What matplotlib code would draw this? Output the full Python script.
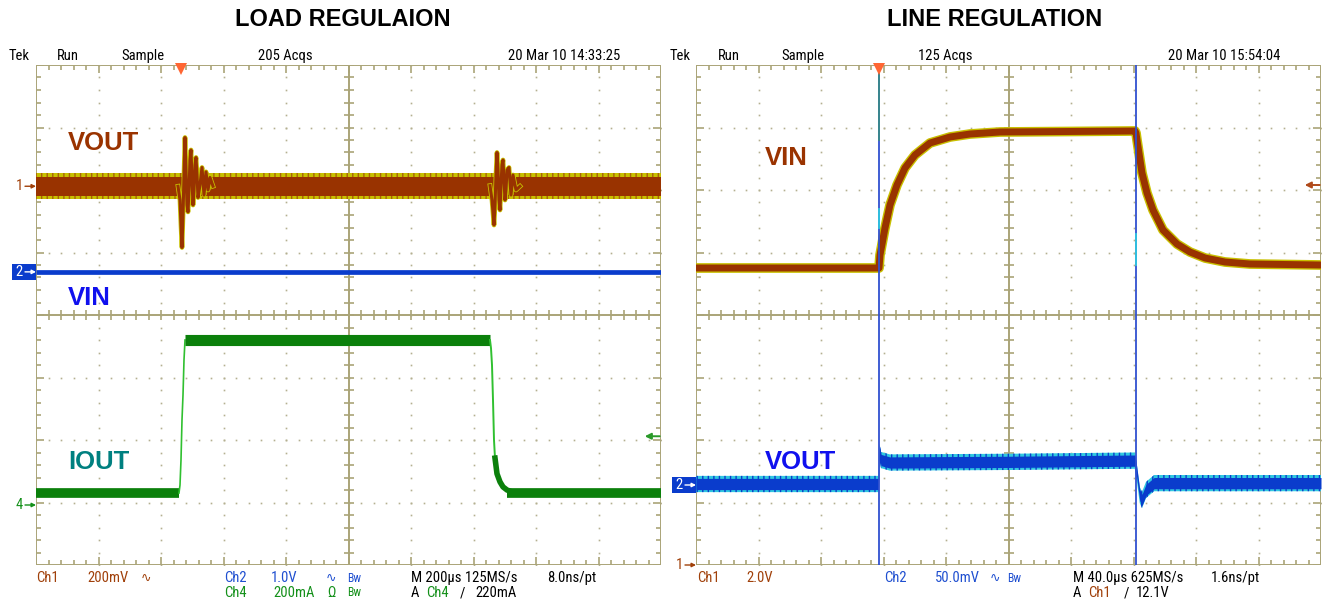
import matplotlib
matplotlib.use('Agg')
import matplotlib.pyplot as plt
from matplotlib.patches import Rectangle
from matplotlib.collections import LineCollection
import numpy as np

# ---------------- data (graticule units: x 0..10 div, y 0..8 div) ----------------
# LOAD REGULATION screen
load_vout_level = 6.06
load_spike1_t = [2.272, 2.304, 2.32, 2.336, 2.352, 2.368, 2.384, 2.40, 2.416, 2.432, 2.448, 2.464, 2.48, 2.496,
                 2.512, 2.528, 2.544, 2.56, 2.576, 2.592, 2.624, 2.656, 2.688, 2.72, 2.752, 2.784, 2.832]
load_spike1_dv = [0, -0.22, -0.62, -0.98, -0.46, 0.18, 0.78, 0.26, -0.30, -0.41, -0.06, 0.42, 0.58, 0.10,
                  -0.30, -0.06, 0.34, 0.46, 0.18, -0.18, 0.02, 0.30, -0.14, 0.23, -0.06, 0.14, 0]
load_spike2_t = [7.264, 7.296, 7.328, 7.344, 7.36, 7.376, 7.392, 7.408, 7.424, 7.44, 7.456, 7.472, 7.488,
                 7.504, 7.52, 7.536, 7.568, 7.60, 7.632, 7.68, 7.744]
load_spike2_dv = [0.01, -0.22, -0.62, -0.30, 0.18, 0.54, 0.26, -0.22, -0.38, 0.02, 0.34, 0.42, 0.10,
                  -0.22, -0.06, 0.26, 0.30, -0.14, 0.18, -0.06, 0]
load_vin_level = 4.69
load_iout_low = 1.15
load_iout_high = 3.60
load_iout_rise_t = [2.288, 2.304, 2.32, 2.336, 2.352, 2.368, 2.384]
load_iout_rise_v = [1.152, 1.28, 1.68, 2.32, 2.72, 3.28, 3.60]
load_iout_fall_t = [7.264, 7.28, 7.296, 7.312, 7.328, 7.344, 7.376, 7.424, 7.472, 7.536, 7.616, 7.744]
load_iout_fall_v = [3.60, 3.47, 3.20, 2.64, 2.00, 1.71, 1.46, 1.33, 1.25, 1.20, 1.17, 1.15]
load_trigger_t = 2.32
load_trigger_level = 2.06
load_ch_refs = {'1': 6.06, '2': 4.69, '4': 0.96}

# LINE REGULATION screen
line_vin_t = [0, 2.928, 2.944, 3.024, 3.104, 3.216, 3.344, 3.504, 3.744, 4.064, 4.384, 4.864, 7.024,
              7.04, 7.056, 7.136, 7.216, 7.312, 7.472, 7.696, 7.904, 8.144, 8.464, 8.864, 10]
line_vin_v = [4.752, 4.752, 4.96, 5.392, 5.76, 6.08, 6.352, 6.56, 6.752, 6.848, 6.896, 6.928, 6.944,
              6.912, 6.80, 6.272, 5.952, 5.68, 5.36, 5.136, 5.008, 4.912, 4.848, 4.816, 4.80]
line_vout_t = [0, 2.92, 2.936, 2.96, 3.10, 5.0, 7.02, 7.05, 7.10, 7.136, 7.20, 7.33, 10]
line_vout_v = [1.296, 1.296, 1.81, 1.68, 1.64, 1.65, 1.67, 1.50, 1.12, 1.04, 1.20, 1.31, 1.31]
line_edges_t = [2.928, 7.04]
line_trigger_t = 2.928
line_trigger_level = 6.08
line_ch_refs = {'2': 1.28, '1': 0.0}

# ---------------- style ----------------
W, H = 1328, 600
GRID = '#aaa478'
DOT = '#b4b090'
BROWN = '#993300'
YELLOW = '#c8c000'
BLUE = '#0a3ccc'
CYAN = '#30c8e0'
GREEN = '#0b800b'
LGREEN = '#30c030'
TXT_BROWN = '#a0400a'
TXT_BLUE = '#1f4fd0'
TXT_GREEN = '#14901a'
NARROW = ['Roboto Condensed', 'DejaVu Sans']
BOLD = ['Liberation Sans', 'DejaVu Sans']
PX = 1 / 62.5  # one pixel in divisions
plt.rcParams['hatch.linewidth'] = 1.0

fig = plt.figure(figsize=(W / 100, H / 100), dpi=100)
fig.patch.set_facecolor('white')


def ftext(px, py, s, color='black', size=10.5, **kw):
    kw.setdefault('family', NARROW)
    fig.text(px / W, 1 - py / H, s, color=color, fontsize=size, va='center', ha='left', **kw)


def graticule(ax):
    ax.set_xlim(0, 10)
    ax.set_ylim(0, 8)
    ax.axis('off')
    ax.add_patch(Rectangle((0, 0), 10, 8, fill=False, ec=GRID, lw=1.4, zorder=1))
    ax.plot([5, 5], [0, 8], color=GRID, lw=1.4, zorder=1)
    ax.plot([0, 10], [4, 4], color=GRID, lw=1.4, zorder=1)
    mx = np.arange(0, 10.001, 0.2)
    my = np.arange(0, 8.001, 0.2)
    for gx in [1, 2, 3, 4, 6, 7, 8, 9]:
        ax.plot(np.full_like(my, gx), my, ls='none', marker='s', ms=1.2, mew=0, color=DOT, zorder=1)
    for gy in [1, 2, 3, 5, 6, 7]:
        ax.plot(mx, np.full_like(mx, gy), ls='none', marker='s', ms=1.2, mew=0, color=DOT, zorder=1)
    segs = []
    for x in mx:
        L = 8 * PX if abs(x - round(x)) < 1e-6 else 5 * PX
        segs += [[(x, 8), (x, 8 - L)], [(x, 0), (x, L)], [(x, 4 - 5 * PX), (x, 4 + 5 * PX)]]
    for y in my:
        L = 8 * PX if abs(y - round(y)) < 1e-6 else 5 * PX
        segs += [[(0, y), (L, y)], [(10, y), (10 - L, y)], [(5 - 5 * PX, y), (5 + 5 * PX, y)]]
    ax.add_collection(LineCollection(segs, colors=GRID, lw=1.2, zorder=1))


def ch_marker(ax, label, level, color, boxed=False):
    if boxed:
        ax.add_patch(Rectangle((-24 * PX, level - 8 * PX), 24 * PX, 16 * PX, fc=color, ec='none',
                               clip_on=False, zorder=5))
        tc = 'white'
    else:
        tc = color
    ax.text(-17 * PX, level, label, color=tc, fontsize=10.5, family=NARROW, ha='center', va='center',
            clip_on=False, zorder=6)
    ax.annotate('', xy=(0, level), xytext=(-11 * PX, level), xycoords='data',
                arrowprops=dict(arrowstyle='-|>', color=tc, lw=1.0, mutation_scale=6,
                                shrinkA=0, shrinkB=0), annotation_clip=False, zorder=6)


def level_arrow(ax, level, color):
    ax.annotate('', xy=(9.74, level), xytext=(9.98, level),
                arrowprops=dict(arrowstyle='-|>', color=color, lw=1.4, mutation_scale=9,
                                shrinkA=0, shrinkB=0), zorder=6)


def trig_mark(ax, t):
    ax.plot([t], [8 - 3.5 * PX], marker='v', ms=8, color='#ff6633', mew=0, clip_on=False, zorder=7)


# ---------------- LOAD REGULATION ----------------
axL = fig.add_axes([36 / W, 35 / H, 625 / W, 500 / H])
graticule(axL)
lv = load_vout_level
axL.fill_between([0, 10], lv - 0.21, lv + 0.21, facecolor=YELLOW, edgecolor='#a8600a', hatch='|||',
                 lw=0, zorder=2)
axL.fill_between([0, 10], lv - 0.15, lv + 0.15, color=BROWN, lw=0, zorder=3)
for t, dv in [(load_spike1_t, load_spike1_dv), (load_spike2_t, load_spike2_dv)]:
    y = lv + np.array(dv)
    axL.plot(t, y, color=YELLOW, lw=3.4, zorder=3)
    axL.plot(t, y, color=BROWN, lw=2.2, zorder=4)
axL.plot([0, 10], [load_vin_level] * 2, color=BLUE, lw=3.4, solid_capstyle='butt', zorder=3)

lo, hi = load_iout_low, load_iout_high
axL.plot([0, load_iout_rise_t[0]], [lo, lo], color=GREEN, lw=7, solid_capstyle='butt', zorder=3)
axL.plot(load_iout_rise_t, load_iout_rise_v, color=LGREEN, lw=1.2, zorder=3)
axL.plot([load_iout_rise_t[-1], load_iout_fall_t[0]], [hi, hi], color=GREEN, lw=8, solid_capstyle='butt',
         zorder=3)
axL.plot(load_iout_fall_t[:6], load_iout_fall_v[:6], color=LGREEN, lw=1.4, zorder=3)
axL.plot(load_iout_fall_t[5:], load_iout_fall_v[5:], color=GREEN, lw=4, zorder=3)
axL.plot([load_iout_fall_t[-3], 10], [lo, lo], color=GREEN, lw=7, solid_capstyle='butt', zorder=3)

trig_mark(axL, load_trigger_t)
level_arrow(axL, load_trigger_level, '#2a9a2a')
ch_marker(axL, '1', load_ch_refs['1'], TXT_BROWN)
ch_marker(axL, '2', load_ch_refs['2'], BLUE, boxed=True)
ch_marker(axL, '4', load_ch_refs['4'], TXT_GREEN)

# ---------------- LINE REGULATION ----------------
axR = fig.add_axes([696 / W, 35 / H, 625 / W, 500 / H])
graticule(axR)
axR.plot(line_vin_t, line_vin_v, color=YELLOW, lw=7, zorder=3, solid_joinstyle='round')
axR.plot(line_vin_t, line_vin_v, color=BROWN, lw=5, zorder=4, solid_joinstyle='round')
vt = np.array(line_vout_t)
vv = np.array(line_vout_v)
axR.fill_between(vt, vv - 0.13, vv + 0.13, facecolor=CYAN, edgecolor=BLUE, hatch='|||', lw=0, zorder=3)
axR.fill_between(vt, vv - 0.09, vv + 0.09, color=BLUE, lw=0, zorder=4)
for t in line_edges_t:
    axR.plot([t, t], [0, 8], color='#3050d0', lw=1.3, zorder=5)
axR.plot([line_edges_t[0]] * 2, [6.8, 8], color='#3a8a88', lw=1.3, zorder=6)
axR.plot([line_edges_t[0]] * 2, [5.4, 5.7], color=CYAN, lw=1.3, zorder=6)
axR.plot([line_edges_t[1]] * 2, [4.8, 5.3], color=CYAN, lw=1.3, zorder=6)

trig_mark(axR, line_trigger_t)
level_arrow(axR, line_trigger_level, '#b04a1a')
ch_marker(axR, '2', line_ch_refs['2'], BLUE, boxed=True)
ch_marker(axR, '1', line_ch_refs['1'], TXT_BROWN)

# ---------------- texts ----------------
fig.text(343 / W, 1 - 20 / H, 'LOAD REGULAION', fontsize=17, fontweight='bold', family=BOLD,
         ha='center', va='center')
fig.text(995 / W, 1 - 20 / H, 'LINE REGULATION', fontsize=17, fontweight='bold', family=BOLD,
         ha='center', va='center')

for px, s in [(9, 'Tek'), (57, 'Run'), (121, 'Sample'), (258, '205 Acqs'), (508, '20 Mar 10 14:33:25'),
              (670, 'Tek'), (718, 'Run'), (781, 'Sample'), (918, '125 Acqs'), (1168, '20 Mar 10 15:54:04')]:
    ftext(px, 56, s)

LBL = dict(fontsize=18.5, fontweight='bold', family=BOLD, va='center', ha='left')
fig.text(68 / W, 1 - 143 / H, 'VOUT', color='#9a3300', **LBL)
fig.text(68 / W, 1 - 298 / H, 'VIN', color='#1010ee', **LBL)
fig.text(68 / W, 1 - 462 / H, 'IOUT', color='#008080', **LBL)
fig.text(765 / W, 1 - 158 / H, 'VIN', color='#9a3300', **LBL)
fig.text(765 / W, 1 - 462 / H, 'VOUT', color='#1010ee', **LBL)

r1, r2 = 578, 593
# left footer
ftext(36, r1, 'Ch1', TXT_BROWN)
ftext(87, r1, '200mV', TXT_BROWN)
ftext(141, r1, '∿', TXT_BROWN, size=9, family=['DejaVu Sans'])
ftext(224, r1, 'Ch2', TXT_BLUE)
ftext(271, r1, '1.0V', TXT_BLUE)
ftext(326, r1, '∿', TXT_BLUE, size=9, family=['DejaVu Sans'])
ftext(347, r1, 'Bw', TXT_BLUE, size=8.5)
ftext(411, r1, 'M 200µs 125MS/s', 'black')
ftext(547, r1, '8.0ns/pt', 'black')
ftext(224, r2, 'Ch4', TXT_GREEN)
ftext(273, r2, '200mA', TXT_GREEN)
ftext(327, r2, 'Ω', TXT_GREEN)
ftext(347, r2, 'Bw', TXT_GREEN, size=8.5)
ftext(411, r2, 'A', 'black')
ftext(426, r2, 'Ch4', TXT_GREEN)
ftext(460, r2, '/', 'black')
ftext(475, r2, '220mA', 'black')
# right footer
ftext(697, r1, 'Ch1', TXT_BROWN)
ftext(746, r1, '2.0V', TXT_BROWN)
ftext(884, r1, 'Ch2', TXT_BLUE)
ftext(935, r1, '50.0mV', TXT_BLUE)
ftext(990, r1, '∿', TXT_BLUE, size=9, family=['DejaVu Sans'])
ftext(1007, r1, 'Bw', TXT_BLUE, size=8.5)
ftext(1073, r1, 'M 40.0µs 625MS/s', 'black')
ftext(1211, r1, '1.6ns/pt', 'black')
ftext(1073, r2, 'A', 'black')
ftext(1088, r2, 'Ch1', TXT_BROWN)
ftext(1124, r2, '/', 'black')
ftext(1136, r2, '12.1V', 'black')

fig.savefig('out.png', dpi=100, facecolor='white')
